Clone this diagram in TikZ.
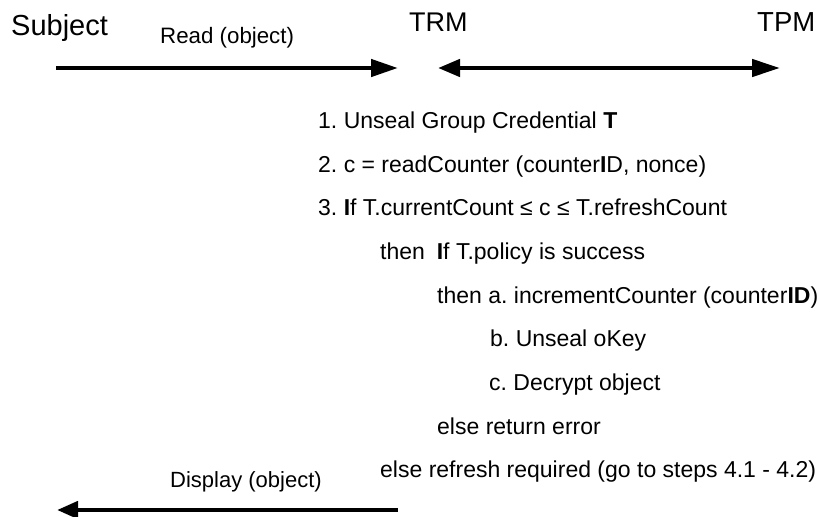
\documentclass[tikz,border=0pt]{standalone}
\usepackage{fontspec}
\setmainfont{Liberation Sans}
\usetikzlibrary{arrows.meta}
\frenchspacing
\begin{document}
\begin{tikzpicture}[x=1pt,y=-1pt,
  lbl/.style={inner sep=0pt, anchor=base west, font=\fontsize{23}{27}\selectfont},
  msglbl/.style={inner sep=0pt, anchor=base west, font=\fontsize{22.3}{26}\selectfont},
  head/.style={inner sep=0pt, anchor=base west, font=\fontsize{29}{33}\selectfont},
  msg/.style={line width=4.5pt},
]
\useasboundingbox (0,0) rectangle (820,517);
% headers
\node[head] (subject) at (11,35) {Subject};
\node[head,font=\fontsize{27}{31}\selectfont] (trm) at (409,31) {TRM};
\node[head,font=\fontsize{27.5}{31}\selectfont] (tpm) at (757,31) {TPM};
% read message
\node[msglbl] (read) at (160,43) {Read (object)};
\coordinate (r1) at (56,68);
\coordinate (r2) at (398,68);
\draw[msg,-{Triangle[length=27pt,width=17pt]}] (r1) -- (r2);
% TRM <-> TPM
\coordinate (t1) at (438,68);
\coordinate (t2) at (780,68);
\draw[msg,{Triangle[length=22pt,width=17pt]}-{Triangle[length=28pt,width=17pt]}] (t1) -- (t2);
% steps
\node[lbl] (s1) at (318,128) {1. Unseal Group Credential \textbf{T}};
\node[lbl] (s2) at (318,172) {2. c = readCounter (counter\textbf{I}D, nonce)};
\node[lbl] (s3) at (318,215) {3. \textbf{I}f T.currentCount ≤ c ≤ T.refreshCount};
\node[lbl] (s4) at (380,259) {then\hspace{5.5pt} \textbf{I}f T.policy is success};
\node[lbl] (s5) at (437,303) {then a. incrementCounter (counter\textbf{ID})};
\node[lbl] (s6) at (490,346) {b. Unseal oKey};
\node[lbl] (s7) at (489,390) {c. Decrypt object};
\node[lbl] (s8) at (437,434) {else return error};
\node[lbl] (s9) at (380,477) {else refresh required (go to steps 4.1 - 4.2)};
% display message
\node[msglbl,font=\fontsize{22}{26}\selectfont] (disp) at (170,487) {Display (object)};
\coordinate (d1) at (398,510);
\coordinate (d2) at (57,510);
\draw[msg,-{Triangle[length=21pt,width=17pt]}] (d1) -- (d2);
\end{tikzpicture}
\end{document}
